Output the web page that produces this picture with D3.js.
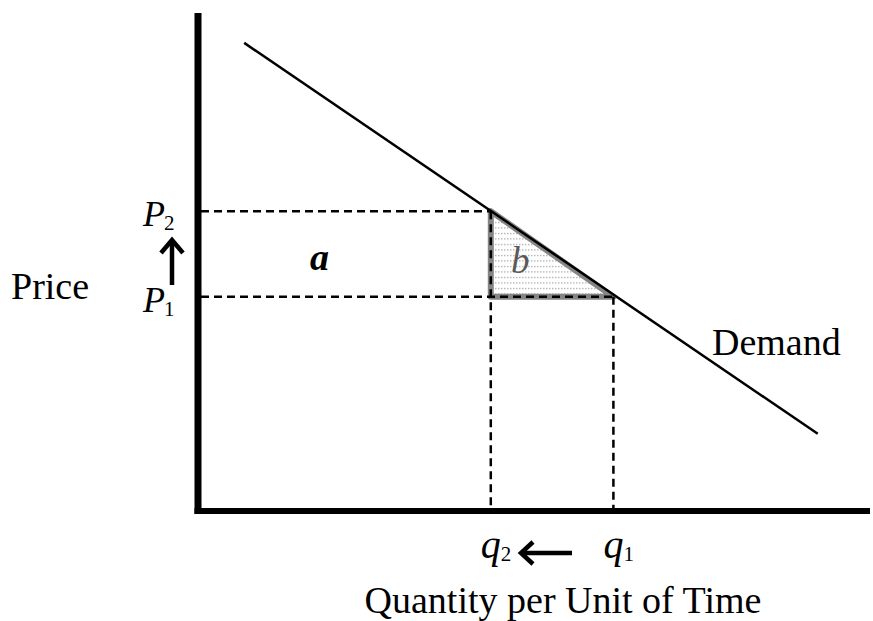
<!DOCTYPE html>
<html>
<head>
<meta charset="utf-8">
<script src="https://cdn.jsdelivr.net/npm/d3@7"></script>
<style>
  body { margin: 0; background: #fff; }
  text { font-family: "Liberation Serif", "Times New Roman", serif; fill: #000; }
</style>
</head>
<body>
<div id="chart"></div>
<script>
// Dimensions
var width = 873
var height = 621

// Données du graphique (unités arbitraires)
const demandQ = [0.69, 9.25]   // extrémités de la droite de demande
const demandP = [9.40, 1.55]
const priceLevels = [4.30, 6.02]   // P1, P2
const priceLabels = ["1", "2"]
const quantityLevels = [6.20, 4.37] // q1, q2
const quantityLabels = ["1", "2"]
const areaLabels = ["a", "b"]

const svg = d3.select("#chart")
  .append("svg")
    .attr("width", width)
    .attr("height", height)

// Echelles
const x = d3.scaleLinear().domain([0, 10]).range([198, 868])
const y = d3.scaleLinear().domain([0, 10]).range([511, 13])

// Motif de pointillés pour le triangle b
const defs = svg.append("defs")
const pat = defs.append("pattern")
  .attr("id", "dots")
  .attr("patternUnits", "userSpaceOnUse")
  .attr("width", 3)
  .attr("height", 5.5)
pat.append("rect")
  .attr("x", 0).attr("y", 2)
  .attr("width", 1.5).attr("height", 1)
  .attr("fill", "#9a9a9a")

const p1 = priceLevels[0], p2 = priceLevels[1]
const q1 = quantityLevels[0], q2 = quantityLevels[1]

// Triangle b (perte sèche)
svg.append("path")
  .attr("d", d3.line()([[x(q2), y(p2)], [x(q2), y(p1)], [x(q1), y(p1)]]) + "Z")
  .attr("fill", "url(#dots)")
  .attr("stroke", "#858585")
  .attr("stroke-width", 6)
  .attr("stroke-linejoin", "round")

// Lignes pointillées
const dashed = svg.append("g")
  .attr("stroke", "#000")
  .attr("stroke-width", 2.5)
  .attr("stroke-dasharray", "8,5")
  .attr("fill", "none")

priceLevels.forEach(function(p, i) {
  dashed.append("line")
    .attr("x1", x(0) + 3).attr("x2", x(quantityLevels[i]))
    .attr("y1", y(p)).attr("y2", y(p))
})
quantityLevels.forEach(function(q, i) {
  dashed.append("line")
    .attr("x1", x(q)).attr("x2", x(q))
    .attr("y1", y(priceLevels[i])).attr("y2", y(0) - 3)
})

// Courbe de demande
svg.append("line")
  .attr("x1", x(demandQ[0])).attr("y1", y(demandP[0]))
  .attr("x2", x(demandQ[1])).attr("y2", y(demandP[1]))
  .attr("stroke", "#000")
  .attr("stroke-width", 2.5)

// Axes épais
svg.append("line")
  .attr("x1", x(0)).attr("x2", x(0))
  .attr("y1", y(10)).attr("y2", y(0) + 3)
  .attr("stroke", "#000").attr("stroke-width", 7)
svg.append("line")
  .attr("x1", x(0) - 3.5).attr("x2", 870)
  .attr("y1", y(0)).attr("y2", y(0))
  .attr("stroke", "#000").attr("stroke-width", 6)

// Etiquettes des prix
priceLabels.forEach(function(lab, i) {
  const t = svg.append("text")
    .attr("x", 143)
    .attr("y", y(priceLevels[i]) + 15)
    .style("font-size", "36px")
    .style("font-style", "italic")
  t.append("tspan").text("P")
  t.append("tspan")
    .attr("dx", -1).attr("dy", 4)
    .style("font-size", "21px")
    .style("font-style", "normal")
    .text(lab)
})

// Etiquettes des quantités
quantityLabels.forEach(function(lab, i) {
  const t = svg.append("text")
    .attr("x", x(quantityLevels[i]) - 10)
    .attr("y", 558)
    .style("font-size", "40px")
    .style("font-style", "italic")
  t.append("tspan").text("q")
  t.append("tspan")
    .attr("dy", 3)
    .style("font-size", "21px")
    .style("font-style", "normal")
    .text(lab)
})

// Flèches
const arrows = svg.append("g")
  .attr("stroke", "#000").attr("stroke-width", 4.5)
  .attr("fill", "none").attr("stroke-linecap", "butt")
arrows.append("line").attr("x1", 172).attr("x2", 172).attr("y1", 285).attr("y2", 240)
arrows.append("polyline").attr("points", "161,253 172,240 183,253")
arrows.append("line").attr("x1", 572).attr("x2", 521).attr("y1", 553).attr("y2", 553)
arrows.append("polyline").attr("points", "533,542 521,553 533,564")

// Lettres des surfaces
svg.append("text")
  .attr("x", 310).attr("y", 270)
  .style("font-size", "38px")
  .style("font-style", "italic")
  .style("font-weight", "bold")
  .text(areaLabels[0])
svg.append("text")
  .attr("x", 511).attr("y", 273)
  .style("font-size", "37px")
  .style("font-style", "italic")
  .style("fill", "#5a5a5a")
  .text(areaLabels[1])

// Titres
svg.append("text")
  .attr("x", 11).attr("y", 299)
  .style("font-size", "38px")
  .text("Price")
svg.append("text")
  .attr("x", 712).attr("y", 355)
  .style("font-size", "38px")
  .text("Demand")
svg.append("text")
  .attr("x", 563).attr("y", 613)
  .attr("text-anchor", "middle")
  .style("font-size", "38px")
  .text("Quantity per Unit of Time")
</script>
</body>
</html>
